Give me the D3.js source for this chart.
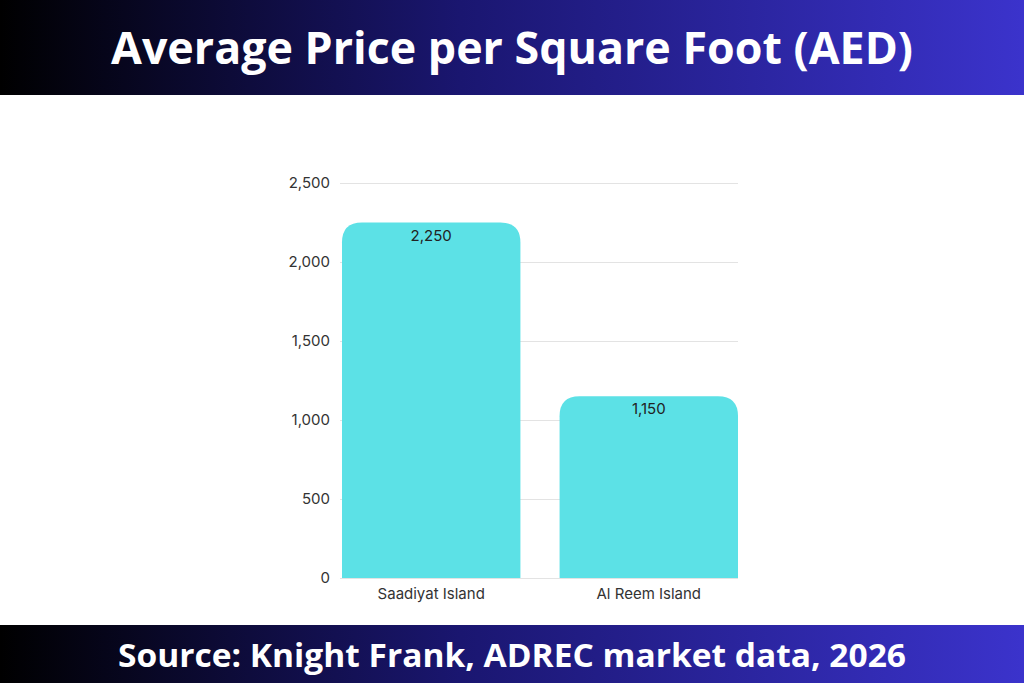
<!DOCTYPE html><html><head><meta charset="utf-8">
<script src="https://cdn.jsdelivr.net/npm/d3@7"></script>
<style>body{margin:0;background:#fff}svg{display:block}</style></head><body>
<script>
const categories=["Saadiyat Island","Al Reem Island"];
const values=[2250,1150];
const yTicks=[0,500,1000,1500,2000,2500];
const title="Average Price per Square Foot (AED)";
const source="Source: Knight Frank, ADREC market data, 2026";

const W=1024,H=683;
const svg=d3.select("body").append("svg").attr("width",W).attr("height",H);
const defs=svg.append("defs");
const g1=defs.append("linearGradient").attr("id","bg");
g1.append("stop").attr("offset","0%").attr("stop-color","#000");
g1.append("stop").attr("offset","45%").attr("stop-color","#1a1670");
g1.append("stop").attr("offset","100%").attr("stop-color","#3b33cc");
svg.append("rect").attr("width",W).attr("height",95).attr("fill","url(#bg)");
svg.append("rect").attr("y",625).attr("width",W).attr("height",58).attr("fill","url(#bg)");
svg.append("text").attr("x",512).attr("y",64).attr("text-anchor","middle").attr("fill","#fff")
 .attr("font-family","Open Sans").attr("font-weight","bold").attr("font-size",44)
 .attr("textLength",802).attr("lengthAdjust","spacingAndGlyphs").text(title);
svg.append("text").attr("x",512).attr("y",667).attr("text-anchor","middle").attr("fill","#fff")
 .attr("font-family","Open Sans").attr("font-weight","bold").attr("font-size",32)
 .attr("textLength",788).attr("lengthAdjust","spacingAndGlyphs").text(source);

const y=d3.scaleLinear().domain([0,2500]).range([578,183]);
const x=d3.scaleBand().domain(categories).range([342,738]).paddingInner(0.18).paddingOuter(0);
const font="Inter, 'Noto Sans', sans-serif";
const ax=svg.append("g").attr("transform","translate(340,0)")
 .call(d3.axisLeft(y).tickValues(yTicks).tickSize(-398).tickFormat(d3.format(",")));
ax.select(".domain").remove();
ax.selectAll("line").attr("stroke","#e3e3e3");
ax.selectAll("text").attr("x",-10).attr("font-family",font).attr("font-size",15).attr("fill","#333");
const r=20;
svg.selectAll(".bar").data(values).enter().append("path").attr("fill","#5ce1e6")
 .attr("d",(v,i)=>{const x0=x(categories[i]),w=x.bandwidth(),t=y(v),b=y(0);
  return `M${x0},${b}V${t+r}Q${x0},${t} ${x0+r},${t}H${x0+w-r}Q${x0+w},${t} ${x0+w},${t+r}V${b}Z`;});
svg.selectAll(".vl").data(values).enter().append("text")
 .attr("x",(v,i)=>x(categories[i])+x.bandwidth()/2).attr("y",v=>y(v)+18)
 .attr("text-anchor","middle").attr("font-family",font).attr("font-size",15).attr("fill","#222")
 .text(d3.format(","));
svg.selectAll(".cl").data(categories).enter().append("text")
 .attr("x",c=>x(c)+x.bandwidth()/2).attr("y",599).attr("text-anchor","middle")
 .attr("font-family",font).attr("font-size",15).attr("fill","#333").text(c=>c);
</script></body></html>
